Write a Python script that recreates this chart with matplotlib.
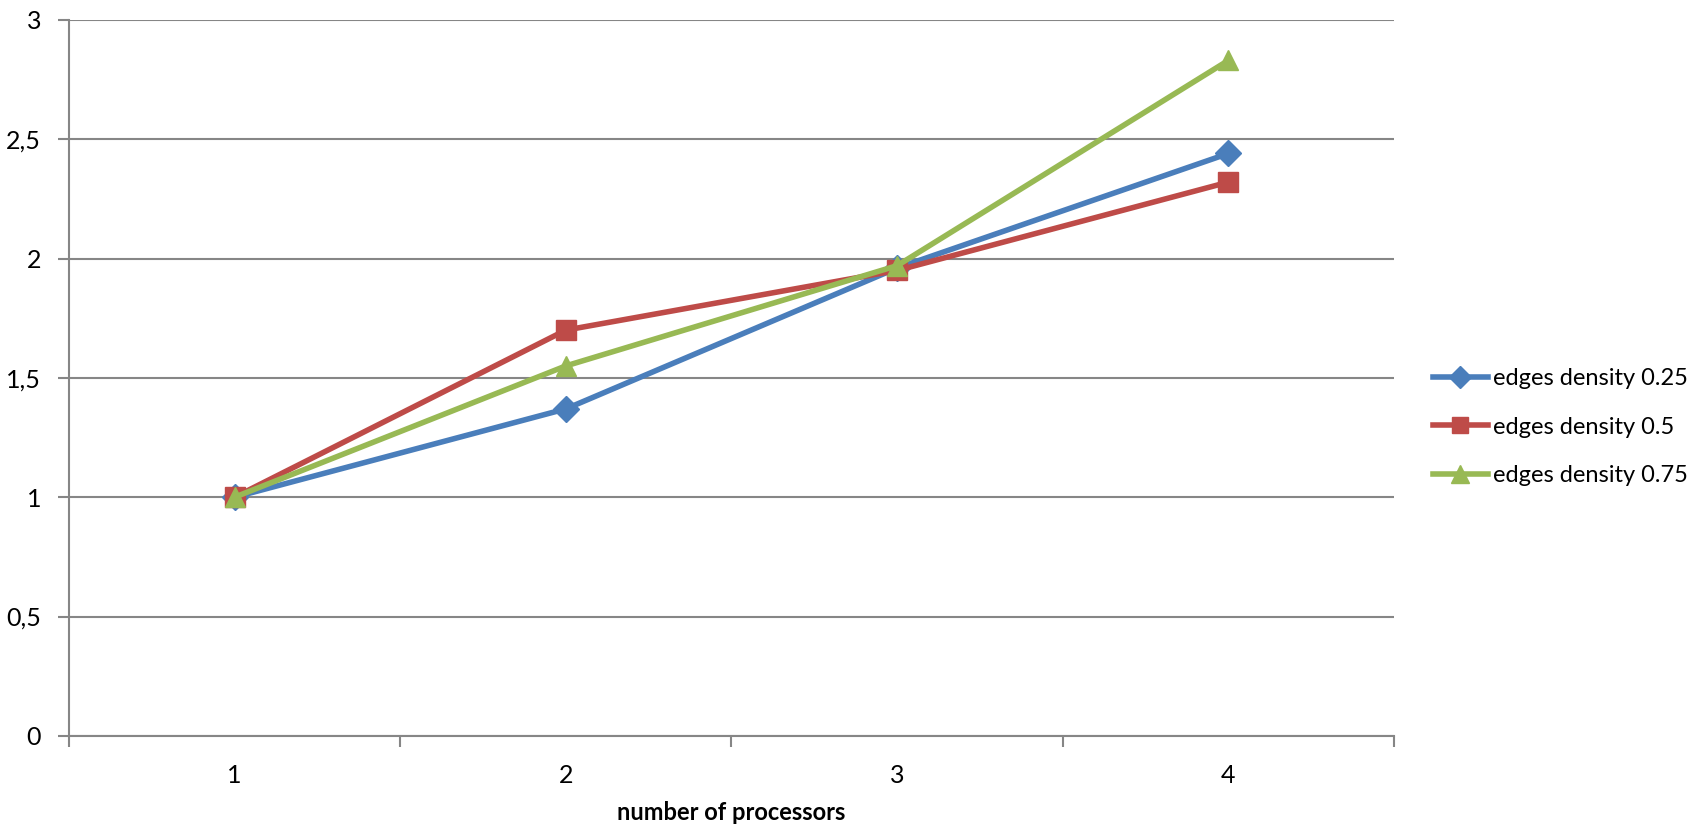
import numpy as np
import matplotlib.pyplot as plt

# speedup per processor count
processors = ["1", "2", "3", "4"]
density_025 = [1.0, 1.37, 1.96, 2.44]
density_05 = [1.0, 1.70, 1.95, 2.32]
density_075 = [1.0, 1.55, 1.97, 2.83]
series_names = ["edges density 0.25", "edges density 0.5", "edges density 0.75"]

y_ticks = [0, 0.5, 1, 1.5, 2, 2.5, 3]
y_labels = ["0", "0,5", "1", "1,5", "2", "2,5", "3"]

plt.rcParams["font.family"] = ["Lato", "DejaVu Sans"]

fig = plt.figure(figsize=(16.98, 8.25), dpi=100)
ax = fig.add_axes([0.0406, 0.108, 0.7804, 0.868])

x = np.arange(len(processors))
styles = [("#4A7EBB", "D", 13), ("#BE4B48", "s", 14), ("#98B954", "^", 15)]
for vals, name, (col, mk, ms) in zip([density_025, density_05, density_075], series_names, styles):
    ax.plot(x, vals, color=col, lw=4, marker=mk, markersize=ms, label=name, zorder=3)

ax.set_xlim(-0.5, len(processors) - 0.5)
ax.set_ylim(0, 3)

grid_col = "#868686"
ax.set_yticks(y_ticks)
ax.set_yticklabels(y_labels)
ax.yaxis.grid(True, color=grid_col, lw=1.5)
ax.set_axisbelow(True)

# category boundaries carry tick marks, labels sit at centres
ax.set_xticks(np.arange(-0.5, len(processors), 1.0))
ax.set_xticklabels([])
ax.set_xticks(x, minor=True)
ax.set_xticklabels(processors, minor=True)
ax.tick_params(axis="x", which="minor", length=0, pad=20, labelsize=18)
ax.tick_params(axis="x", which="major", length=8, width=1.5, color=grid_col)
ax.tick_params(axis="y", length=8, width=1.5, color=grid_col, labelsize=18, pad=12)

for side in ["top", "right"]:
    ax.spines[side].set_visible(False)
for side in ["left", "bottom"]:
    ax.spines[side].set_color(grid_col)
    ax.spines[side].set_linewidth(1.5)

ax.set_xlabel("number of processors", fontsize=17, fontweight="bold", labelpad=10)

ax.legend(loc="center left", bbox_to_anchor=(1.013, 0.431), frameon=False,
          fontsize=17, handlelength=2.34, handletextpad=0.21, labelspacing=1.16,
          markerscale=0.85)

fig.savefig("out.png", dpi=100)
